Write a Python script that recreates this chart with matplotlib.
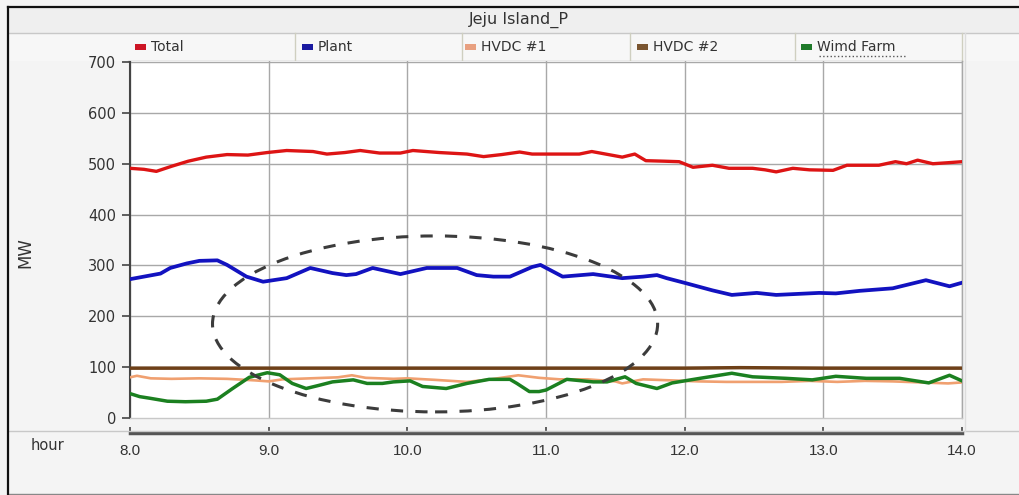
import matplotlib
matplotlib.use("Agg")
import matplotlib.pyplot as plt
from matplotlib.patches import Ellipse, Rectangle
from matplotlib.lines import Line2D

plt.rcParams['font.family'] = ['DejaVu Sans']

# ---------------- data ----------------
series_names = ["Total", "Plant", "HVDC #1", "HVDC #2", "Wimd Farm"]
x_ticks = [8.0, 9.0, 10.0, 11.0, 12.0, 13.0, 14.0]
x_tick_labels = ["8.0", "9.0", "10.0", "11.0", "12.0", "13.0", "14.0"]
y_ticks = [0, 100, 200, 300, 400, 500, 600, 700]

total_t = [8.0, 8.1, 8.19, 8.3, 8.42, 8.55, 8.7, 8.85, 8.99, 9.13, 9.32, 9.42, 9.55,
           9.66, 9.8, 9.95, 10.04, 10.23, 10.43, 10.55, 10.68, 10.81, 10.9, 11.1,
           11.24, 11.33, 11.45, 11.55, 11.64, 11.72, 11.85, 11.96, 12.06, 12.2,
           12.32, 12.49, 12.58, 12.66, 12.78, 12.9, 13.07, 13.17, 13.4, 13.52,
           13.6, 13.68, 13.79, 13.9, 14.0]
total_mw = [491, 489, 485, 495, 505, 513, 518, 517, 522, 526, 524, 519, 522,
            526, 521, 521, 526, 522, 519, 514, 518, 523, 519, 519,
            519, 524, 518, 513, 519, 506, 505, 504, 493, 497,
            491, 491, 488, 484, 491, 488, 487, 497, 497, 504,
            500, 507, 500, 502, 504]

plant_t = [8.0, 8.1, 8.22, 8.29, 8.41, 8.5, 8.63, 8.7, 8.84, 8.96, 9.13, 9.3, 9.46,
           9.56, 9.63, 9.75, 9.95, 10.14, 10.36, 10.5, 10.62, 10.74, 10.9, 10.96,
           11.12, 11.34, 11.55, 11.7, 11.8, 11.87, 12.01, 12.2, 12.34, 12.52,
           12.66, 12.97, 13.09, 13.26, 13.5, 13.74, 13.91, 14.0]
plant_mw = [273, 278, 284, 295, 304, 309, 310, 301, 278, 268, 275, 295, 285,
            281, 283, 295, 283, 295, 295, 281, 278, 278, 297, 301,
            278, 283, 275, 278, 281, 275, 265, 251, 242, 246,
            242, 246, 245, 250, 255, 271, 259, 266]

hvdc1_t = [8.0, 8.05, 8.15, 8.3, 8.5, 8.7, 8.9, 9.0, 9.1, 9.3, 9.5, 9.6, 9.7, 9.9,
           10.0, 10.2, 10.43, 10.6, 10.8, 10.95, 11.1, 11.3, 11.5, 11.55, 11.7,
           11.9, 12.1, 12.3, 12.5, 12.7, 12.9, 13.1, 13.3, 13.5, 13.7, 13.9, 14.0]
hvdc1_mw = [80, 83, 78, 77, 78, 77, 74, 72, 76, 78, 80, 84, 79, 77,
            78, 75, 71, 76, 84, 79, 76, 76, 72, 68, 76,
            74, 72, 71, 71, 71, 73, 71, 73, 72, 70, 68, 70]

hvdc2_t = [8.0, 9.0, 10.0, 11.0, 12.0, 12.4, 13.0, 14.0]
hvdc2_mw = [98, 98, 98, 98, 98, 99, 98, 98]

wind_t = [8.0, 8.07, 8.14, 8.27, 8.4, 8.55, 8.63, 8.74, 8.86, 8.99, 9.08, 9.17, 9.27,
          9.36, 9.46, 9.61, 9.71, 9.82, 9.9, 10.02, 10.11, 10.28, 10.43, 10.59,
          10.74, 10.79, 10.88, 10.95, 11.0, 11.15, 11.34, 11.44, 11.57, 11.65,
          11.8, 11.91, 12.11, 12.34, 12.49, 12.73, 12.92, 13.09, 13.31, 13.55,
          13.76, 13.91, 14.0]
wind_mw = [48, 42, 39, 33, 32, 33, 37, 58, 80, 89, 85, 68, 58,
           64, 71, 75, 68, 68, 71, 73, 62, 58, 68, 76,
           76, 68, 52, 52, 55, 76, 71, 71, 81, 68,
           58, 69, 78, 88, 81, 78, 75, 82, 78, 78,
           69, 84, 73]

# highlight ellipse (center hour, center MW, width hours, height MW)
ell_center = (10.20, 185)
ell_width = 3.21
ell_height = 346

# ---------------- figure ----------------
W, H = 1020, 495
fig = plt.figure(figsize=(W / 100, H / 100), dpi=100, facecolor='#f4f4f4')

def fx(px):
    return px / W

def fy(py):
    return 1 - py / H

txt_color = '#333333'

# title bar / legend row backgrounds
fig.patches.append(Rectangle((fx(8), fy(33)), fx(1012), fy(7) - fy(33),
                             transform=fig.transFigure, facecolor='#efefef',
                             edgecolor='none', zorder=0))
fig.patches.append(Rectangle((fx(8), fy(61)), fx(1012), fy(33) - fy(61),
                             transform=fig.transFigure, facecolor='#f7f7f7',
                             edgecolor='none', zorder=0))

# frame lines
def fline(x0, y0, x1, y1, color, lw, ls='-', z=1):
    fig.lines.append(Line2D([fx(x0), fx(x1)], [fy(y0), fy(y1)],
                            transform=fig.transFigure, color=color, lw=lw,
                            linestyle=ls, zorder=z))

fline(8, 7, 1020, 7, '#111111', 1.6, z=8)
fline(8, 7, 8, 494, '#111111', 1.6, z=8)
fline(8, 493.5, 1020, 493.5, '#888888', 1.0)
fline(8, 33, 1020, 33, '#c8c8c8', 1.0)
fline(8, 431, 1020, 431, '#c8c8c8', 1.0)
fline(965, 33, 965, 431, '#dddddd', 1.0)
fline(128, 61, 962, 61, '#b0b0b0', 1.0)
for sx in [295, 462, 630, 795, 962]:
    fline(sx, 33, sx, 61, '#cfcfc0', 1.0)

# title
fig.text(fx(519), fy(20), "Jeju Island_P", ha='center', va='center',
         fontsize=11.5, color=txt_color)

# main axes
ax = fig.add_axes([fx(130), fy(418), fx(962) - fx(130), fy(61) - fy(418)])
ax.set_zorder(3)
ax.set_facecolor('white')
ax.set_xlim(8.0, 14.0)
ax.set_ylim(0, 702)

colors = {
    "Total": '#dd1414',
    "Plant": '#1212c0',
    "HVDC #1": '#f0a070',
    "HVDC #2": '#6e4018',
    "Wimd Farm": '#1b8020',
}
legend_colors = {
    "Total": '#cc1424',
    "Plant": '#1a1aa0',
    "HVDC #1": '#e8a080',
    "HVDC #2": '#7a5530',
    "Wimd Farm": '#1f7a2a',
}

ax.plot(hvdc2_t, hvdc2_mw, color=colors["HVDC #2"], lw=2.5, zorder=3)
ax.plot(hvdc1_t, hvdc1_mw, color=colors["HVDC #1"], lw=1.9, zorder=3)
ax.plot(wind_t, wind_mw, color=colors["Wimd Farm"], lw=2.5, zorder=4)
ax.plot(plant_t, plant_mw, color=colors["Plant"], lw=2.7, zorder=4)
ax.plot(total_t, total_mw, color=colors["Total"], lw=2.4, zorder=4)

ell = Ellipse(ell_center, ell_width, ell_height, fill=False, edgecolor='#3c3c3c',
              lw=2.2, linestyle=(0, (4, 4)), capstyle='butt', zorder=6)
ax.add_patch(ell)

ax.set_yticks(y_ticks)
ax.set_xticks(x_ticks)
ax.grid(True, color='#a8a8a8', lw=1.0, zorder=1)
ax.set_axisbelow(True)
ax.yaxis.get_gridlines()[0].set_visible(False)
ax.tick_params(axis='x', bottom=False, labelbottom=False)
ax.tick_params(axis='y', direction='out', length=6, width=1.2, color='#444444',
               labelsize=10.5, labelcolor=txt_color, pad=4)
ax.spines['top'].set_visible(False)
ax.spines['left'].set_color('#444444')
ax.spines['left'].set_linewidth(1.5)
ax.spines['left'].set_bounds(0, 700)
ax.spines['right'].set_color('#a8a8a8')
ax.spines['bottom'].set_color('#c8c8c8')
ax.spines['right'].set_linewidth(1.0)
ax.spines['bottom'].set_linewidth(1.0)

fig.text(fx(25), fy(253), "MW", rotation=90, ha='center', va='center',
         fontsize=12, color=txt_color)

# x-axis strip
ax2 = fig.add_axes([fx(130), fy(433), fx(962) - fx(130), 0.0001])
ax2.set_xlim(8.0, 14.0)
ax2.set_yticks([])
ax2.set_xticks(x_ticks)
ax2.set_xticklabels(x_tick_labels, family=['Liberation Sans', 'DejaVu Sans'])
ax2.patch.set_visible(False)
for s in ['top', 'left', 'right']:
    ax2.spines[s].set_visible(False)
ax2.spines['bottom'].set_color('#555555')
ax2.spines['bottom'].set_linewidth(2.5)
ax2.tick_params(axis='x', direction='in', length=4, width=1.2, color='#444444',
                labelsize=11, labelcolor=txt_color, pad=8)

fig.text(fx(47), fy(445), "hour", ha='center', va='center', fontsize=10.5,
         color=txt_color)

# legend row
leg_marker_x = [135, 302, 465, 637, 801]
for name, mx in zip(series_names, leg_marker_x):
    fig.patches.append(Rectangle((fx(mx), fy(50)), fx(11), fy(44) - fy(50),
                                 transform=fig.transFigure,
                                 facecolor=legend_colors[name],
                                 edgecolor='none', zorder=6))
    fig.text(fx(mx + 16), fy(47), name, ha='left', va='center', fontsize=10,
             color=txt_color)
# spell-check underline under "Wimd Farm"
fline(819, 56, 905, 56, '#555555', 1.0, ':', z=6)

fig.savefig("out.png", dpi=100, facecolor=fig.get_facecolor())
